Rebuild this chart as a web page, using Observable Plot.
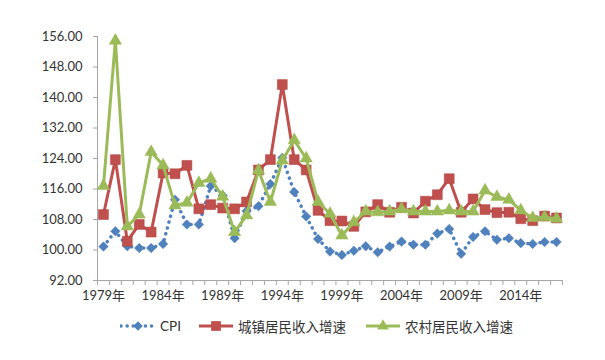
<!DOCTYPE html>
<html>
<head>
<meta charset="utf-8">
<script src="https://cdn.jsdelivr.net/npm/d3@7"></script>
<script src="https://cdn.jsdelivr.net/npm/@observablehq/plot@0.6"></script>
<style>
  body { margin: 0; background: #fff; font-family: Lato, "Noto Sans CJK SC", sans-serif; }
  #chart { width: 605px; }
  #legend { position: relative; height: 32px; font-size: 13.5px; color: #333; }
  .item { position: absolute; top: 0; height: 32px; display: flex; align-items: center; }
  .item svg { margin-right: 4px; }
</style>
</head>
<body>
<div id="chart"></div>
<div id="legend"></div>
<script>
const years = [1979,1980,1981,1982,1983,1984,1985,1986,1987,1988,1989,1990,1991,1992,1993,1994,1995,1996,1997,1998,1999,2000,2001,2002,2003,2004,2005,2006,2007,2008,2009,2010,2011,2012,2013,2014,2015,2016,2017];
const cpi = [100.9,104.9,101.0,100.5,100.5,101.6,113.2,106.7,106.7,116.8,114.3,103.1,110.2,111.5,117.3,124.2,115.2,108.8,102.9,99.6,98.7,99.8,101.0,99.4,100.9,102.2,101.4,101.4,104.3,105.5,99.0,103.4,104.9,102.7,103.1,101.8,101.6,102.1,102.1];
const urban = [109.3,123.7,102.3,106.7,104.7,120.2,120.0,122.2,110.8,111.9,111.0,110.8,112.6,121.0,123.7,143.4,123.7,121.0,110.4,107.7,107.6,106.2,110.0,111.9,109.9,111.2,109.7,112.8,114.5,118.7,109.9,113.4,110.6,109.8,109.9,108.2,107.7,108.9,108.4];
const rural = [116.8,154.9,106.2,109.3,125.7,122.2,111.7,112.4,117.6,118.7,114.0,104.7,109.1,120.9,112.6,123.5,128.8,124.0,112.6,109.5,103.8,107.3,110.1,109.9,110.1,110.7,110.1,110.1,110.1,110.4,110.1,110.1,115.6,113.9,113.2,110.4,108.4,108.6,108.2];
const yTicks = [92,100,108,116,124,132,140,148,156];
const xLabelYears = [1979,1984,1989,1994,1999,2004,2009,2014];
const seriesNames = ["CPI", "城镇居民收入增速", "农村居民收入增速"];
const colors = ["#4F81BD", "#C0504D", "#9BBB59"];

const rows = years.map((y, i) => ({year: y, cpi: cpi[i], urban: urban[i], rural: rural[i]}));
const boundaries = years.map(y => y - 0.5).concat([years[years.length - 1] + 0.5]);
const axisGray = "#a6a6a6";

const chart = Plot.plot({
  width: 605,
  height: 310,
  marginLeft: 97,
  marginRight: 43,
  marginTop: 36,
  marginBottom: 30,
  x: {type: "linear", domain: [boundaries[0], boundaries[boundaries.length - 1]], label: null},
  y: {domain: [92, 156], label: null},
  style: {fontFamily: "Lato, 'Noto Sans CJK SC', sans-serif", fontSize: "13px", color: "#333", background: "#fff"},
  marks: [
    Plot.axisY({ticks: yTicks, tickFormat: d => d.toFixed(2), tickSize: 4, tickPadding: 11, stroke: axisGray, fill: "#333", label: null}),
    Plot.ruleX([boundaries[0]], {stroke: axisGray}),
    Plot.axisX({ticks: boundaries, tickSize: 5, tickFormat: () => "", stroke: axisGray, label: null}),
    Plot.axisX({ticks: xLabelYears, tickSize: 0, tickPadding: 10, tickFormat: d => d + "年", fill: "#333", label: null}),
    Plot.ruleY([92], {stroke: axisGray}),
    Plot.line(rows, {x: "year", y: "cpi", stroke: colors[0], strokeWidth: 3.5, strokeDasharray: "0.1 6", strokeLinecap: "round"}),
    Plot.dot(rows, {x: "year", y: "cpi", symbol: "diamond2", r: 4.3, fill: colors[0], stroke: colors[0], strokeWidth: 0.5}),
    Plot.line(rows, {x: "year", y: "urban", stroke: colors[1], strokeWidth: 3}),
    Plot.dot(rows, {x: "year", y: "urban", symbol: "square", r: 5.6, fill: colors[1], stroke: "#b04542", strokeWidth: 0.5}),
    Plot.line(rows, {x: "year", y: "rural", stroke: colors[2], strokeWidth: 3}),
    Plot.dot(rows, {x: "year", y: "rural", symbol: "triangle", r: 4.6, fill: colors[2], stroke: colors[2], strokeWidth: 0.5})
  ]
});
document.getElementById("chart").append(chart);

// Legend
const legend = d3.select("#legend");
const lefts = [120, 198, 365];
const symbolTypes = [d3.symbolDiamond2, d3.symbolSquare, d3.symbolTriangle];
const symbolSizes = [58, 95, 60];
seriesNames.forEach((name, i) => {
  const item = legend.append("div").attr("class", "item").style("left", lefts[i] + "px");
  const s = item.append("svg").attr("width", 36).attr("height", 14);
  const line = s.append("line").attr("x1", 1).attr("x2", 35).attr("y1", 7).attr("y2", 7)
    .attr("stroke", colors[i]).attr("stroke-width", i === 0 ? 3.5 : 3);
  if (i === 0) line.attr("stroke-dasharray", "0.1 6").attr("stroke-linecap", "round");
  s.append("path").attr("transform", "translate(18,7)")
    .attr("d", d3.symbol(symbolTypes[i], symbolSizes[i])()).attr("fill", colors[i]);
  item.append("span").text(name);
});
</script>
</body>
</html>
